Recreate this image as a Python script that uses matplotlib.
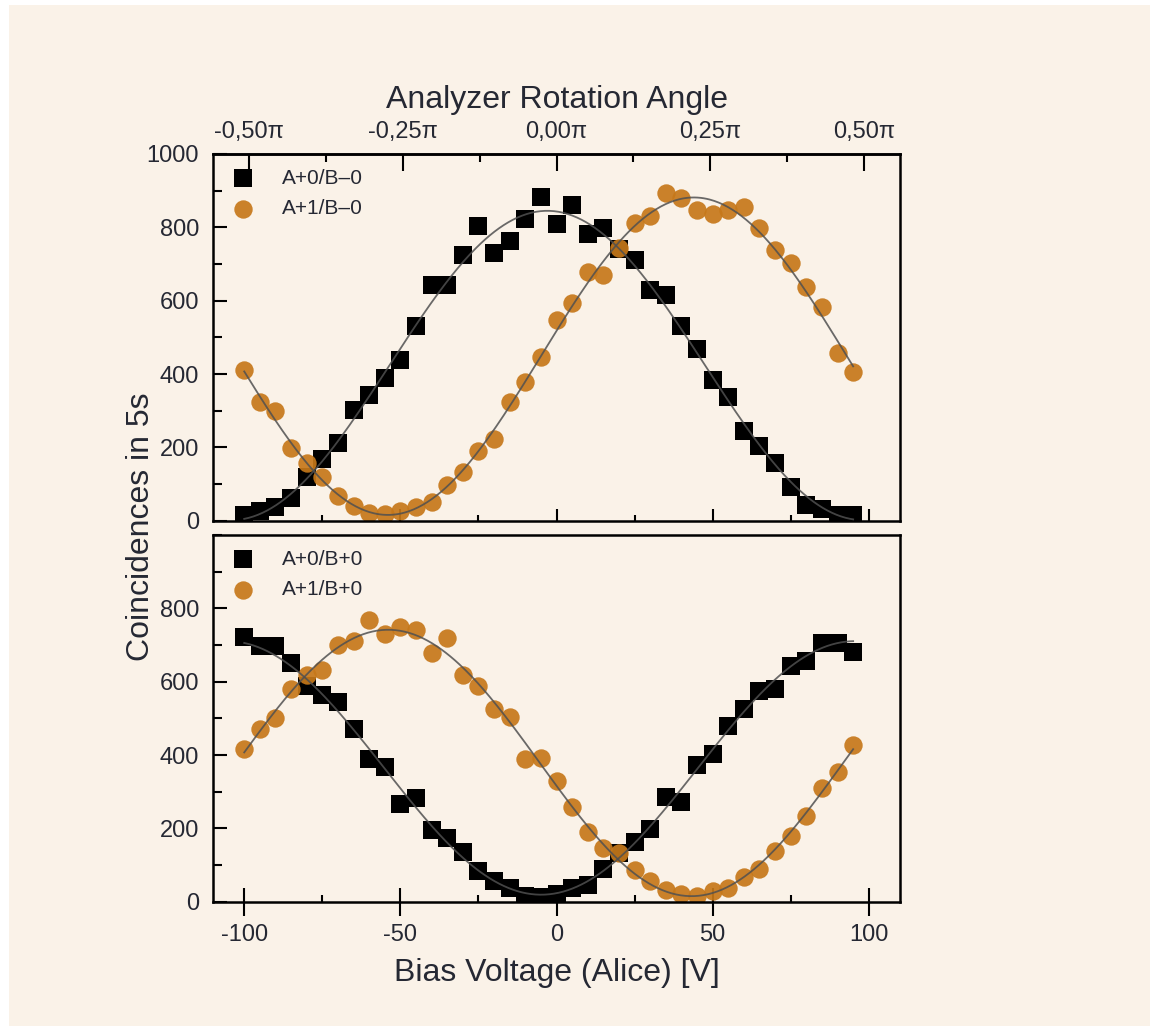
import numpy as np
import matplotlib
matplotlib.use("Agg")
import matplotlib.pyplot as plt
from matplotlib.patches import Rectangle
from matplotlib.ticker import MultipleLocator, FixedLocator, FuncFormatter

# ---------------- data ----------------
bias_v = np.arange(-100, 96, 5)  # Bias Voltage (Alice) [V]

top_a0_b0 = [15, 27, 38, 62, 118, 168, 212, 302, 342, 388, 438, 532, 642, 642, 724, 803,
             730, 763, 822, 884, 810, 861, 783, 797, 742, 710, 630, 615, 532, 468,
             383, 337, 244, 204, 157, 93, 42, 33, 15, 15]
top_a1_b0 = [410, 324, 298, 198, 157, 118, 68, 40, 22, 18, 27, 36, 52, 97, 134, 189,
             223, 324, 377, 447, 546, 595, 677, 670, 743, 812, 830, 895, 880, 848,
             837, 848, 855, 798, 738, 702, 638, 583, 457, 406]
bot_a0_b0 = [722, 697, 697, 651, 589, 563, 545, 472, 389, 366, 267, 284, 196, 173, 135, 85,
             57, 38, 16, 14, 20, 37, 46, 88, 134, 162, 199, 285, 272, 373,
             403, 478, 526, 574, 580, 644, 656, 706, 706, 680]
bot_a1_b0 = [416, 471, 501, 580, 619, 633, 701, 710, 768, 731, 750, 742, 679, 720, 619, 587,
             526, 504, 389, 392, 328, 257, 189, 146, 134, 87, 57, 32, 21, 16,
             28, 37, 68, 88, 139, 178, 235, 311, 355, 428]

angle_ticks = [-0.5, -0.25, 0.0, 0.25, 0.5]   # in units of pi
y_ticks_top = [0, 200, 400, 600, 800, 1000]
y_ticks_bot = [0, 200, 400, 600, 800]
x_ticks = [-100, -50, 0, 50, 100]

labels_top = ["A+0/B\u20130", "A+1/B\u20130"]
labels_bot = ["A+0/B+0", "A+1/B+0"]

# ---------------- style ----------------
CREAM = "#FAF2E8"
ORANGE = "#C6781A"
TXT = "#252833"
FIT = "#505050"
V_PER_PI = 197.0

plt.rcParams["font.family"] = ["Liberation Sans", "DejaVu Sans"]


def sine_fit(x, y):
    x = np.asarray(x, float)
    y = np.asarray(y, float)
    best = None
    for P in np.arange(170, 230.01, 0.25):
        k = 2 * np.pi / P
        M = np.column_stack([np.ones_like(x), np.cos(k * x), np.sin(k * x)])
        c, *_ = np.linalg.lstsq(M, y, rcond=None)
        r = np.sum((M @ c - y) ** 2)
        if best is None or r < best[0]:
            best = (r, k, c)
    _, k, c = best
    return lambda t: c[0] + c[1] * np.cos(k * t) + c[2] * np.sin(k * t)


fig = plt.figure(figsize=(11.5, 10.26), dpi=100, facecolor="white")
bg = Rectangle((9 / 1150, 0), 1.0, 1 - 5 / 1026, transform=fig.transFigure,
               facecolor=CREAM, edgecolor="none", zorder=-10)
fig.add_artist(bg)

L, W = 213 / 1150, 687 / 1150
ax1 = fig.add_axes([L, 1 - 520.7 / 1026, W, 366.7 / 1026])
ax2 = fig.add_axes([L, 1 - 901.7 / 1026, W, 366.7 / 1026])

xs = np.linspace(bias_v[0], bias_v[-1], 400)

for ax, s0, s1, labs in [(ax1, top_a0_b0, top_a1_b0, labels_top),
                         (ax2, bot_a0_b0, bot_a1_b0, labels_bot)]:
    ax.set_facecolor(CREAM)
    h0 = ax.scatter(bias_v, s0, marker="s", s=150, color="black", linewidths=0, zorder=2,
                    label=labs[0])
    h1 = ax.scatter(bias_v, s1, marker="o", s=175, color=ORANGE, alpha=0.92, linewidths=0,
                    zorder=2, label=labs[1])
    for s in (s0, s1):
        f = sine_fit(bias_v, s)
        ax.plot(xs, f(xs), color=FIT, lw=1.3, alpha=0.85, zorder=3)
    ax.set_xlim(-110, 110)
    ax.set_ylim(0, 1000)
    for sp in ax.spines.values():
        sp.set_linewidth(1.8)
    leg = ax.legend(handles=[h0, h1], loc="upper left", bbox_to_anchor=(0.0, 1.0),
                    frameon=False, fontsize=15, handlelength=1.5, handletextpad=1.1,
                    labelspacing=0.55, borderaxespad=0.3, scatterpoints=1, markerscale=1.0)
    for t in leg.get_texts():
        t.set_color(TXT)

# top panel axes
ax1.yaxis.set_major_locator(FixedLocator(y_ticks_top))
ax1.yaxis.set_minor_locator(MultipleLocator(100))
ax1.xaxis.set_major_locator(FixedLocator(x_ticks))
ax1.xaxis.set_minor_locator(MultipleLocator(25))
ax1.tick_params(axis="x", which="both", direction="in", bottom=True, top=False,
                labelbottom=False, width=1.5)
ax1.tick_params(axis="x", which="major", length=8.5)
ax1.tick_params(axis="x", which="minor", length=4)

# bottom panel axes
ax2.yaxis.set_major_locator(FixedLocator(y_ticks_bot))
ax2.yaxis.set_minor_locator(MultipleLocator(100))
ax2.xaxis.set_major_locator(FixedLocator(x_ticks))
ax2.xaxis.set_minor_locator(MultipleLocator(25))
ax2.tick_params(axis="x", which="major", direction="inout", length=20, width=1.5,
                labelsize=17, labelcolor=TXT, pad=6)
ax2.tick_params(axis="x", which="minor", direction="in", length=5, width=1.5)

for ax in (ax1, ax2):
    ax.tick_params(axis="y", which="major", direction="in", length=10, width=1.5,
                   labelsize=17, labelcolor=TXT, pad=10, right=False)
    ax.tick_params(axis="y", which="minor", direction="in", length=6.5, width=1.5,
                   right=False)

ax2.xaxis.set_major_formatter(FuncFormatter(lambda v, p: f"{v:g}"))

# secondary (angle) axis on top panel
sec = ax1.secondary_xaxis("top", functions=(lambda v: v / V_PER_PI, lambda a: a * V_PER_PI))
sec.xaxis.set_major_locator(FixedLocator(angle_ticks))
sec.xaxis.set_minor_locator(MultipleLocator(0.125))
sec.xaxis.set_major_formatter(FuncFormatter(lambda a, p: f"{a:.2f}".replace(".", ",") + "\u03c0"
                                            if abs(a) > 1e-9 else "0,00\u03c0"))
sec.tick_params(axis="x", which="major", direction="in", length=12, width=1.5,
                labelsize=17, labelcolor=TXT, pad=8)
sec.tick_params(axis="x", which="minor", direction="in", length=6, width=1.5)
sec.spines["top"].set_linewidth(1.8)
sec.set_xlabel("Analyzer Rotation Angle", fontsize=23, color=TXT, labelpad=9)

ax2.set_xlabel("Bias Voltage (Alice) [V]", fontsize=23, color=TXT, labelpad=9)
fig.text(141 / 1150, 1 - 527 / 1026, "Coincidences in 5s", rotation=90, fontsize=23,
         color=TXT, ha="center", va="center")

fig.savefig("out.png", dpi=100, facecolor=fig.get_facecolor())
